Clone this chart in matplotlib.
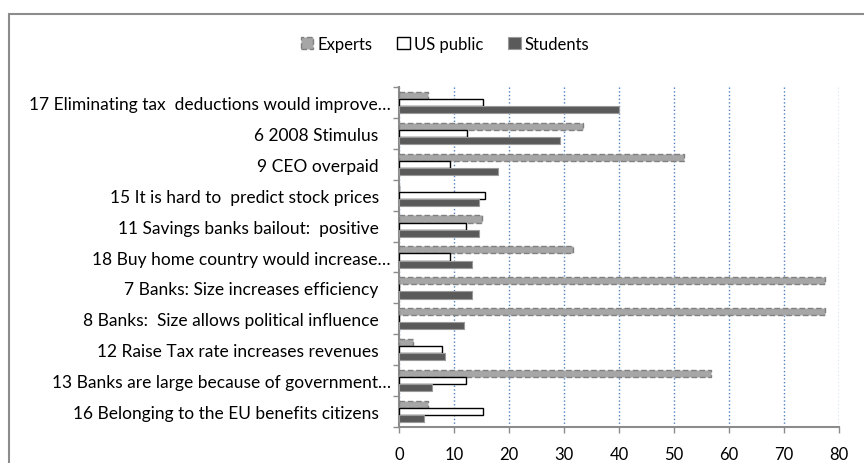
import numpy as np
import matplotlib
matplotlib.use('Agg')
import matplotlib.pyplot as plt
import matplotlib.transforms as mtransforms
from matplotlib.patches import Rectangle

plt.rcParams['font.family'] = ['Lato', 'DejaVu Sans']

# questions, top to bottom
questions = ['17 Eliminating tax  deductions would improve\u2026',
             '6 2008 Stimulus',
             '9 CEO overpaid',
             '15 It is hard to  predict stock prices',
             '11 Savings banks bailout:  positive',
             '18 Buy home country would increase\u2026',
             '7 Banks: Size increases efficiency',
             '8 Banks:  Size allows political influence',
             '12 Raise Tax rate increases revenues',
             '13 Banks are large because of government\u2026',
             '16 Belonging to the EU benefits citizens']
experts  = [5.2, 33.4, 51.9, 0.0, 15.0, 31.6, 77.4, 77.4, 2.5, 56.7, 5.2]
uspublic = [15.3, 12.3, 9.2, 15.6, 12.2, 9.2, 0.0, 0.0, 7.8, 12.2, 15.3]
students = [40.0, 29.2, 18.0, 14.6, 14.6, 13.2, 13.2, 11.9, 8.4, 6.0, 4.6]

fig = plt.figure(figsize=(8.64, 4.64), dpi=100)
ax = fig.add_axes([399/864, 1-428/464, 440/864, 340/464])

# outer chart border
fig.patches.append(Rectangle((9/864, -0.1), 1.2, 1.1 - 15/464, transform=fig.transFigure,
                             fill=False, edgecolor='#8c8c8c', linewidth=1.5, zorder=0))

y = np.arange(len(questions))
h = 0.23
ax.barh(y - h, experts, height=h, color='#a6a6a6', edgecolor='#808080',
        linestyle=(0, (4, 2)), linewidth=1.0, label='Experts', zorder=3)
ax.barh(y, uspublic, height=h, color='white', edgecolor='black',
        linewidth=1.0, label='US public', zorder=3)
ax.barh(y + h, students, height=h, color='#5a5a5a', edgecolor='#9a9a9a',
        linewidth=0.8, label='Students', zorder=3)

ax.set_ylim(len(questions) - 0.5, -0.5)
ax.set_xlim(0, 80)
ax.set_xticks(range(0, 81, 10))
ax.set_yticks(y)
ax.set_yticklabels(questions, fontsize=12.5)
ax.set_yticks(np.arange(-0.5, len(questions), 1), minor=True)
ax.tick_params(axis='y', which='major', length=0, pad=6)
ax.tick_params(axis='y', which='minor', length=4, color='#8c8c8c', width=1)
ax.tick_params(axis='x', length=4, color='#8c8c8c', width=1, labelsize=12, pad=10)

# labels without ellipsis sit a bit further from the axis
for lab in ax.get_yticklabels():
    if not lab.get_text().endswith('\u2026'):
        lab.set_transform(lab.get_transform() +
                          mtransforms.ScaledTranslation(-12/100, 0, fig.dpi_scale_trans))

ax.grid(axis='x', color='#4f81bd', linestyle=':', linewidth=1.0, zorder=0)
for s in ['top', 'right']:
    ax.spines[s].set_visible(False)
for s in ['left', 'bottom']:
    ax.spines[s].set_color('#8c8c8c')
    ax.spines[s].set_linewidth(1.5)

ax.legend(loc='center', bbox_to_anchor=(445/864, 1-45/464), bbox_transform=fig.transFigure,
          ncol=3, frameon=False, fontsize=12, handlelength=0.75, handleheight=0.75,
          handletextpad=0.25, columnspacing=1.5)

fig.savefig('out.png', dpi=100)
